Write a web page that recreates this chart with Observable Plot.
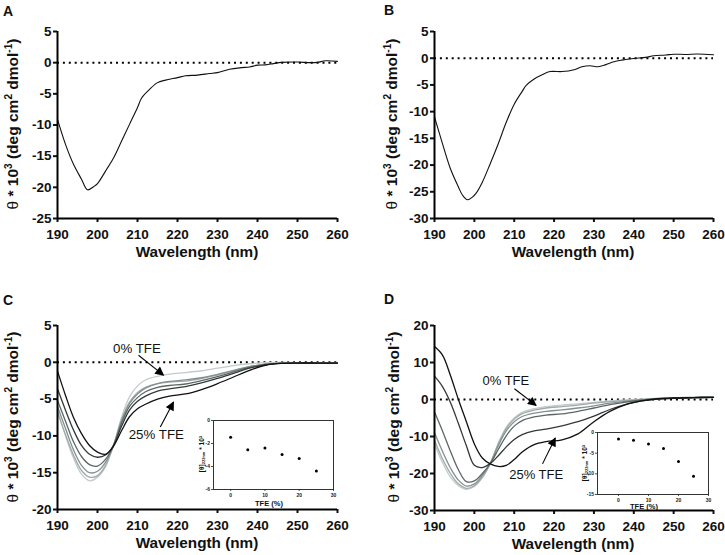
<!DOCTYPE html>
<html><head><meta charset="utf-8">
<script src="https://cdn.jsdelivr.net/npm/d3@7"></script>
<script src="https://cdn.jsdelivr.net/npm/@observablehq/plot@0.6"></script>
<style>
body{margin:0;background:#fff;}
#fig{position:relative;width:725px;height:555px;overflow:hidden;font-family:"Liberation Sans",Arial,sans-serif;color:#111;}
#fig svg{position:absolute;overflow:visible;}
.lbl{position:absolute;font-weight:bold;white-space:nowrap;text-align:center;}
.panel{font-size:14px;line-height:14px;text-align:left;}
.xlab{font-size:15.3px;line-height:18px;width:200px;}
.ylab{font-size:15.5px;line-height:20px;width:260px;height:20px;transform:rotate(-90deg);}
.ilab{font-size:6.5px;line-height:8px;width:60px;height:8px;transform:rotate(-90deg);}
.ixlab{font-size:7.5px;line-height:9px;width:50px;}
.th{font-weight:normal;}
sup{font-size:0.65em;vertical-align:0.55em;line-height:0;}
sub{font-size:0.62em;vertical-align:-0.25em;line-height:0;}
</style></head>
<body>
<div id="fig">
  <div class="lbl panel" style="left:3px;top:4px">A</div>
  <div class="lbl panel" style="left:384px;top:3px">B</div>
  <div class="lbl panel" style="left:3px;top:293px">C</div>
  <div class="lbl panel" style="left:384px;top:292px">D</div>
  <div class="lbl xlab" style="left:97px;top:243px">Wavelength (nm)</div>
  <div class="lbl xlab" style="left:473px;top:243px">Wavelength (nm)</div>
  <div class="lbl xlab" style="left:97px;top:534px">Wavelength (nm)</div>
  <div class="lbl xlab" style="left:473px;top:535px">Wavelength (nm)</div>
  <div class="lbl ylab" style="left:-117px;top:114px"><span class="th">θ</span> * 10<sup>3</sup> (deg cm<sup>2</sup> dmol<sup>-1</sup>)</div>
  <div class="lbl ylab" style="left:262px;top:114px"><span class="th">θ</span> * 10<sup>3</sup> (deg cm<sup>2</sup> dmol<sup>-1</sup>)</div>
  <div class="lbl ylab" style="left:-117px;top:407px"><span class="th">θ</span> * 10<sup>3</sup> (deg cm<sup>2</sup> dmol<sup>-1</sup>)</div>
  <div class="lbl ylab" style="left:264px;top:407px"><span class="th">θ</span> * 10<sup>3</sup> (deg cm<sup>2</sup> dmol<sup>-1</sup>)</div>
  <div class="lbl ilab" style="left:172px;top:450px">[θ]<sub>222nm</sub> * 10<sup>3</sup></div>
  <div class="lbl ilab" style="left:555px;top:459px">[θ]<sub>222nm</sub> * 10<sup>3</sup></div>
  <div class="lbl ixlab" style="left:244px;top:499px">TFE (%)</div>
  <div class="lbl ixlab" style="left:619px;top:502px">TFE (%)</div>
</div>
<script>
// ---------- data ----------
const xTicks = [190, 200, 210, 220, 230, 240, 250, 260];

// Panel A
const wlA = [190,192,194,196,197.5,199,200,202,204,206,208,210,211,213,215,217,220,222,225,228,230,233,236,238,240,242,244,246,250,253,255,257,260];
const thetaA = [-9.1,-13.1,-16.3,-18.7,-20.4,-19.9,-19.4,-17.4,-15.3,-12.6,-9.9,-7.2,-5.7,-4.3,-3.2,-2.8,-2.4,-2.1,-2.0,-1.75,-1.6,-1.05,-0.8,-0.7,-0.4,-0.35,-0.15,0.05,0.1,0,0.05,0.3,0.2];
const yTicksA = [5, 0, -5, -10, -15, -20, -25];

// Panel B
const wlB = [190,192,194,196,197,198.3,199.5,200.5,202,204,206,208,210,212,213,215,217,219,222,225,227,229,231,233,235,237,240,243,245,248,250,253,256,260];
const thetaB = [-11.0,-16.0,-20.7,-24.1,-25.6,-26.5,-26.0,-25.2,-23.2,-19.7,-16.0,-12.0,-8.6,-6.2,-5.1,-3.9,-3.1,-2.5,-2.5,-2.15,-1.6,-1.4,-1.6,-1.2,-0.65,-0.35,-0.05,0.15,0.45,0.6,0.75,0.7,0.8,0.65];
const yTicksB = [5, 0, -5, -10, -15, -20, -25, -30];

// Panels C and D (TFE series, 0% .. 25%)
const wlCD = [190,192,194,196,198,200,202,204,206,208,210,212,215,218,222,226,230,234,238,242,246,250,255,260];
const tfeLevels = ["0% TFE", "5% TFE", "10% TFE", "15% TFE", "20% TFE", "25% TFE"];
const shades = ["#c3cbcb", "#a0aaaa", "#84908f", "#5d6666", "#353939", "#111111"];

const C0  = [-6.5,-10.0,-13.0,-15.2,-16.1,-15.6,-14.2,-11.3,-7.5,-4.7,-3.2,-2.4,-1.9,-1.6,-1.4,-1.15,-0.8,-0.45,-0.2,-0.05,0,-0.05,-0.05,-0.1];
const C5  = [-6.8,-9.8,-12.6,-14.7,-15.6,-15.4,-14.0,-11.3,-7.8,-5.4,-4.1,-3.4,-2.9,-2.7,-2.55,-2.2,-1.75,-1.15,-0.6,-0.25,-0.1,-0.1,-0.1,-0.1];
const C10 = [-6.0,-9.0,-11.9,-14.0,-15.0,-14.8,-13.6,-11.3,-8.0,-5.6,-4.3,-3.5,-2.9,-2.6,-2.4,-2.1,-1.65,-1.1,-0.6,-0.25,-0.1,-0.1,-0.1,-0.1];
const C15 = [-5.2,-8.0,-10.8,-12.8,-13.9,-14.1,-13.2,-11.3,-8.3,-6.0,-4.8,-4.0,-3.4,-3.15,-2.95,-2.5,-1.95,-1.3,-0.7,-0.3,-0.1,-0.1,-0.1,-0.1];
const C20 = [-3.6,-6.5,-9.2,-11.3,-12.5,-12.9,-12.6,-11.3,-8.7,-6.5,-5.3,-4.6,-3.9,-3.6,-3.3,-2.8,-2.2,-1.5,-0.8,-0.35,-0.15,-0.1,-0.1,-0.1];
const C25 = [-1.2,-4.5,-7.5,-9.7,-11.3,-12.2,-12.5,-11.4,-9.3,-7.4,-6.3,-5.7,-5.0,-4.6,-4.3,-3.7,-2.9,-2.0,-1.1,-0.4,-0.15,-0.1,-0.1,-0.1];
const yTicksC = [5, 0, -5, -10, -15, -20];

const D0  = [-12,-17,-21,-23.3,-24.3,-23.5,-21.2,-17.3,-11.8,-7.5,-5.0,-3.5,-2.5,-1.9,-1.5,-1.2,-0.8,-0.4,-0.1,0.1,0.3,0.5,0.6,0.7];
const D5  = [-11,-16,-20,-22.8,-24.0,-23.3,-21.0,-17.3,-12.0,-7.8,-5.3,-3.8,-2.9,-2.3,-1.9,-1.5,-1.0,-0.6,-0.3,0,0.3,0.5,0.6,0.7];
const D10 = [-9,-14,-18.5,-21.8,-23.4,-22.8,-20.5,-17.3,-12.5,-8.5,-6.0,-4.6,-3.7,-3.2,-2.8,-2.3,-1.7,-1.0,-0.5,-0.1,0.2,0.4,0.5,0.6];
const D15 = [-3.4,-8.5,-14,-19,-22.2,-22.0,-20.0,-17.3,-13.5,-9.8,-7.2,-5.7,-4.7,-4.2,-3.9,-3.2,-2.3,-1.4,-0.7,-0.2,0.2,0.4,0.5,0.6];
const D20 = [6.3,3.5,-0.8,-6.5,-12.5,-17.8,-18.4,-17.3,-15.2,-12.8,-10.8,-9.5,-8.5,-8.0,-7.1,-6.0,-4.5,-2.7,-1.3,-0.4,0.1,0.3,0.5,0.6];
const D25 = [14.3,12.0,6.5,0,-6.0,-12.0,-15.8,-17.4,-18.1,-17.8,-16.2,-14.2,-12.2,-11.4,-10.9,-9.3,-6.0,-3.2,-1.4,-0.4,0.2,0.4,0.5,0.6];
const yTicksD = [20, 10, 0, -10, -20, -30];

// annotations (data coordinates)
const annTextC  = [{t: "0% TFE", x: 209.85, y: 1.9}, {t: "25% TFE", x: 214.7, y: -9.8}];
const annArrowC = [{x1: 210.25, y1: 0.96, x2: 216.5, y2: -1.75}, {x1: 215.7, y1: -8.8, x2: 219.0, y2: -5.4}];
const annTextD  = [{t: "0% TFE", x: 207.9, y: 5.1}, {t: "25% TFE", x: 215.5, y: -20.3}];
const annArrowD = [{x1: 210.05, y1: 2.9, x2: 215.5, y2: -1.6}, {x1: 217.1, y1: -17.4, x2: 220.3, y2: -10.4}];

// insets: [θ]222nm vs TFE %
const tfeInset = [0, 5, 10, 15, 20, 25];
const insetC = [-1.45, -2.55, -2.4, -2.95, -3.3, -4.4];
const insetD = [-1.6, -1.9, -2.8, -3.9, -7.0, -10.6];
const insetXTicks = [0, 10, 20, 30];
const insetYTicksC = [0, -2, -4, -6];
const insetYTicksD = [0, -5, -10, -15];

// ---------- drawing ----------
const fig = document.getElementById("fig");
const FONT = "'Liberation Sans', Arial, sans-serif";
const fmt = d => String(d);

function addArrowMarker(svgEl, id) {
  const svg = d3.select(svgEl);
  svg.append("defs").append("marker")
    .attr("id", id).attr("viewBox", "0 0 10 10").attr("refX", 9).attr("refY", 5)
    .attr("markerUnits", "userSpaceOnUse").attr("markerWidth", 10).attr("markerHeight", 9)
    .attr("orient", "auto")
    .append("path").attr("d", "M0,0L10,5L0,10z").attr("fill", "#000");
  svg.selectAll('g[aria-label="link"] path').attr("marker-end", `url(#${id})`);
}

function mainPanel(o) {
  const marks = [
    Plot.ruleY([0], {stroke: "#000", strokeWidth: 2, strokeDasharray: "2,3.9"})
  ];
  o.lines.forEach((vals, i) => {
    marks.push(Plot.line(o.wl.map((w, j) => ({w, v: vals[j]})),
      {x: "w", y: "v", stroke: o.colors[i], strokeWidth: o.sw, curve: "catmull-rom"}));
  });
  if (o.texts) marks.push(Plot.text(o.texts, {x: "x", y: "y", text: "t", fontSize: o.annSize, fontWeight: "normal", fill: "#111"}));
  if (o.arrows) marks.push(Plot.link(o.arrows, {x1: "x1", y1: "y1", x2: "x2", y2: "y2", stroke: "#000", strokeWidth: 1.1}));
  marks.push(Plot.axisX({ticks: xTicks, tickSize: 4, tickPadding: 6.5, strokeWidth: 2, label: null, tickFormat: fmt, fontSize: 13.5, fontWeight: "bold"}));
  marks.push(Plot.axisY({ticks: o.yTicks, tickSize: 4, tickPadding: 2, strokeWidth: 2, label: null, tickFormat: fmt, fontSize: 13.5, fontWeight: "bold"}));
  marks.push(Plot.ruleX([190], {stroke: "#000", strokeWidth: 2}));
  marks.push(Plot.ruleY([o.yDomain[0]], {stroke: "#000", strokeWidth: 2}));
  const svg = Plot.plot({
    width: o.width, height: o.height,
    marginLeft: o.m[0], marginRight: o.m[1], marginTop: o.m[2], marginBottom: o.m[3],
    x: {domain: [190, 260]}, y: {domain: o.yDomain},
    style: {fontFamily: FONT, fontSize: "13.5px", fontWeight: "bold", background: "transparent", color: "#111"},
    marks
  });
  svg.style.left = o.left + "px"; svg.style.top = o.top + "px";
  fig.appendChild(svg);
  if (o.arrows) addArrowMarker(svg, o.id);
}

function insetPanel(o) {
  const data = tfeInset.map((t, i) => ({t, v: o.vals[i]}));
  const svg = Plot.plot({
    width: o.width, height: o.height,
    marginLeft: o.m[0], marginRight: o.m[1], marginTop: o.m[2], marginBottom: o.m[3],
    x: {domain: o.xDomain}, y: {domain: o.yDomain},
    style: {fontFamily: FONT, fontSize: "5px", fontWeight: "bold", background: "transparent", color: "#222"},
    marks: [
      Plot.frame({stroke: "#333", strokeWidth: 1, fill: "#fff"}),
      Plot.dot(data, {x: "t", y: "v", r: 1.5, fill: "#000", stroke: "none"}),
      Plot.axisX({ticks: insetXTicks, tickSize: 2, tickPadding: 1.5, strokeWidth: 0.8, label: null, tickFormat: fmt, fontSize: 5}),
      Plot.axisY({ticks: o.yTicks, tickSize: 2, tickPadding: 1.5, strokeWidth: 0.8, label: null, tickFormat: fmt, fontSize: 5})
    ]
  });
  svg.style.left = o.left + "px"; svg.style.top = o.top + "px";
  fig.appendChild(svg);
}

mainPanel({left: 0, top: 0, width: 362, height: 278, m: [57, 25, 31, 60],
  yDomain: [-25, 5], yTicks: yTicksA, wl: wlA, lines: [thetaA], colors: ["#111"], sw: 1.1});
mainPanel({left: 362, top: 0, width: 363, height: 278, m: [72, 12, 31, 60],
  yDomain: [-30, 5], yTicks: yTicksB, wl: wlB, lines: [thetaB], colors: ["#111"], sw: 1.1});
mainPanel({left: 0, top: 278, width: 362, height: 277, m: [57, 25, 47, 46],
  yDomain: [-20, 5], yTicks: yTicksC, wl: wlCD, lines: [C0, C5, C10, C15, C20, C25], colors: shades, sw: 1.3,
  texts: annTextC, arrows: annArrowC, annSize: 13.3, id: "arrC"});
mainPanel({left: 362, top: 278, width: 363, height: 277, m: [72, 12, 47, 45],
  yDomain: [-30, 20], yTicks: yTicksD, wl: wlCD, lines: [D0, D5, D10, D15, D20, D25], colors: shades, sw: 1.3,
  texts: annTextD, arrows: annArrowD, annSize: 13, id: "arrD"});

insetPanel({left: 188, top: 410, width: 152, height: 100, m: [25, 7, 10, 21],
  xDomain: [-5, 30], yDomain: [-6, 0], yTicks: insetYTicksC, vals: insetC});
insetPanel({left: 572, top: 424, width: 142, height: 90, m: [25, 6, 8, 20],
  xDomain: [-7, 30], yDomain: [-15, 0], yTicks: insetYTicksD, vals: insetD});
</script>
</body></html>
